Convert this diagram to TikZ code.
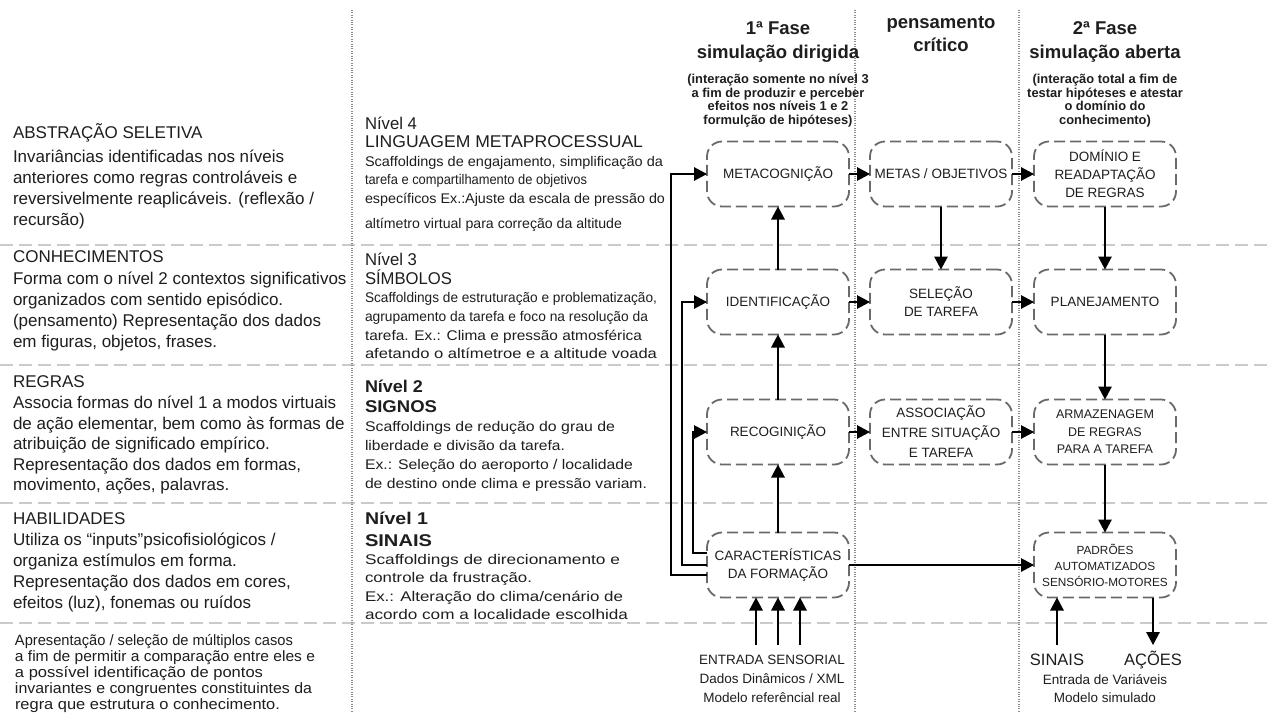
\documentclass[tikz,border=0pt]{standalone}
\usepackage{fontspec}
\setmainfont{Liberation Sans}
\usepackage{graphicx}
\usetikzlibrary{arrows.meta}

% squeeze or stretch one line of text to a given width (in pt)
\newsavebox\linebox
\newcommand\fitto[2]{\sbox\linebox{#2}\pgfmathsetmacro\fitscale{#1/\wd\linebox}\scalebox{\fitscale}[1]{\usebox\linebox}}

\definecolor{sepgray}{HTML}{CACACA}
\definecolor{dotgray}{HTML}{8C8C8C}
\definecolor{boxgray}{HTML}{6A6A6A}
\definecolor{ink}{HTML}{1E1E1E}

\begin{document}
\begin{tikzpicture}[x=1pt,y=-1pt,
  every node/.style={inner sep=0pt, outer sep=0pt},
  band/.style={draw=sepgray, line width=2.2pt, dash pattern=on 13pt off 6pt},
  colrule/.style={draw=dotgray, line width=1.1pt, dash pattern=on 1pt off 1.4pt},
  stage/.style={draw=boxgray, line width=1.8pt, dash pattern=on 11pt off 5pt,
    rounded corners=15pt, minimum width=142pt, minimum height=65pt,
    align=center, text=ink, font=\fontsize{13.5}{18}\selectfont},
  link/.style={draw=black, line width=1.3pt, -{Triangle[length=13pt,width=13.5pt]}},
  lefttxt/.style={anchor=base west, text=ink, font=\fontsize{17}{21}\selectfont},
  midtxt/.style={anchor=base west, text=ink, font=\fontsize{14}{17}\selectfont},
  lowtxt/.style={anchor=base west, text=ink, font=\fontsize{15}{16}\selectfont},
  phase/.style={anchor=base, text=ink, font=\bfseries\fontsize{18.5}{22}\selectfont},
  phasenote/.style={anchor=base, text=ink, font=\bfseries\fontsize{12.9}{14}\selectfont},
  foot/.style={anchor=base, text=ink, font=\fontsize{13.5}{16}\selectfont},
  bigfoot/.style={anchor=base, text=ink, font=\fontsize{16.5}{18}\selectfont}
]
\fill[white] (0,0) rectangle (1267,713);
\useasboundingbox (0,0) rectangle (1267,713);

% level bands and column rules
\foreach \yy in {245,365,503,623} \draw[band] (0,\yy) -- (1267,\yy);
\foreach \xx in {352,855,1019} \draw[colrule] (\xx,10) -- (\xx,713);

% left column: levels of knowledge
\foreach \yy/\tx [count=\i] in {
  138.5/{ABSTRAÇÃO SELETIVA},
  162.5/{Invariâncias identificadas nos níveis},
  183.5/{anteriores como regras controláveis e},
  204.5/{reversivelmente reaplicáveis. (reflexão /},
  225.5/{recursão)},
  262.5/{CONHECIMENTOS},
  284.5/{Forma com o nível 2 contextos significativos},
  305.5/{organizados com sentido episódico.},
  326.5/{(pensamento) Representação dos dados},
  347.5/{em figuras, objetos, frases.},
  387.5/{REGRAS},
  408.5/{Associa formas do nível 1 a modos virtuais},
  429.5/{de ação elementar, bem como às formas de},
  449.5/{atribuição de significado empírico.},
  470.5/{Representação dos dados em formas,},
  490.5/{movimento, ações, palavras.},
  524.5/{HABILIDADES},
  545.5/{Utiliza os “inputs”psicofisiológicos /},
  566.5/{organiza estímulos em forma.},
  587.5/{Representação dos dados em cores,},
  608.5/{efeitos (luz), fonemas ou ruídos}}
  \node[lefttxt] (left-\i) at (13,\yy) {\tx};

\foreach \yy/\ww/\tx [count=\i] in {
  645/278/{Apresentação / seleção de múltiplos casos},
  661/300/{a fim de permitir a comparação entre eles e},
  677/248/{a possível identificação de pontos},
  693/297/{invariantes e congruentes constituintes da},
  709/265/{regra que estrutura o conhecimento.}}
  \node[lowtxt] (low-\i) at (15,\yy) {\fitto{\ww}{\tx}};

% middle column: levels and scaffoldings
\foreach \yy/\ww/\tx [count=\i] in {
  129/52/{\fontsize{17}{20}\selectfont Nível 4},
  147/278/{\fontsize{17}{20}\selectfont LINGUAGEM METAPROCESSUAL},
  166.5/298/{Scaffoldings de engajamento, simplificação da},
  184.5/222/{tarefa e compartilhamento de objetivos},
  203.5/300/{específicos Ex.:Ajuste da escala de pressão do},
  228.5/257/{altímetro virtual para correção da altitude},
  265/52/{\fontsize{17}{20}\selectfont Nível 3},
  284/87/{\fontsize{17}{20}\selectfont SÍMBOLOS},
  302.5/292/{Scaffoldings de estruturação e problematização,},
  321.5/283/{agrupamento da tarefa e foco na resolução da},
  340.5/277/{tarefa. Ex.: Clima e pressão atmosférica},
  358.5/292/{afetando o altímetroe e a altitude voada},
  392/58/{\bfseries\fontsize{17}{20}\selectfont Nível 2},
  412/72/{\bfseries\fontsize{17}{20}\selectfont SIGNOS},
  431.5/250/{Scaffoldings de redução do grau de},
  450.5/200/{liberdade e divisão da tarefa.},
  469.5/268/{Ex.: Seleção do aeroporto / localidade},
  488.5/282/{de destino onde clima e pressão variam.},
  524/63/{\bfseries\fontsize{17}{20}\selectfont Nível 1},
  546/67/{\bfseries\fontsize{17}{20}\selectfont SINAIS},
  564.5/255/{Scaffoldings de direcionamento e},
  582.5/167/{controle da frustração.},
  601.5/258/{Ex.: Alteração do clima/cenário de},
  619.5/263/{acordo com a localidade escolhida}}
  \node[midtxt] (mid-\i) at (365,\yy) {\fitto{\ww}{\tx}};

% column headings
\node[phase] (ph1a) at (778,34.5) {1ª Fase};
\node[phase] (ph1b) at (778,58.5) {simulação dirigida};
\node[phasenote] (ph1c) at (778,83.5) {(interação somente no nível 3};
\node[phasenote] (ph1d) at (778,97) {a fim de produzir e perceber};
\node[phasenote] (ph1e) at (778,110.5) {efeitos nos níveis 1 e 2};
\node[phasenote] (ph1f) at (778,124) {formulção de hipóteses)};
\node[phase] (pc1) at (941,28.5) {pensamento};
\node[phase] (pc2) at (941,51.5) {crítico};
\node[phase] (ph2a) at (1105,34.5) {2ª Fase};
\node[phase] (ph2b) at (1105,58.5) {simulação aberta};
\node[phasenote] (ph2c) at (1105,83.5) {(interação total a fim de};
\node[phasenote] (ph2d) at (1105,97) {testar hipóteses e atestar};
\node[phasenote] (ph2e) at (1105,110.5) {o domínio do};
\node[phasenote] (ph2f) at (1105,124) {conhecimento)};

% process stages
\node[stage] (meta) at (778,174) {METACOGNIÇÃO};
\node[stage] (metas) at (941,174) {METAS / OBJETIVOS};
\node[stage] (dominio) at (1105,174) {DOMÍNIO E\\READAPTAÇÃO\\DE REGRAS};
\node[stage] (ident) at (778,302) {IDENTIFICAÇÃO};
\node[stage] (selecao) at (941,302) {SELEÇÃO\\DE TAREFA};
\node[stage] (plan) at (1105,302) {PLANEJAMENTO};
\node[stage] (recog) at (778,432) {RECOGINIÇÃO};
\node[stage, font=\fontsize{13.5}{20}\selectfont] (assoc) at (941,432) {ASSOCIAÇÃO\\ENTRE SITUAÇÃO\\E TAREFA};
\node[stage, font=\fontsize{12.5}{17.5}\selectfont] (armaz) at (1105,432) {ARMAZENAGEM\\DE REGRAS\\PARA A TAREFA};
\node[stage] (carac) at (778,565) {CARACTERÍSTICAS\\DA FORMAÇÃO};
\node[stage, font=\fontsize{11.8}{16}\selectfont] (padroes) at (1105,565) {PADRÕES\\AUTOMATIZADOS\\SENSÓRIO-MOTORES};

% flow between stages
\draw[link] (meta) -- (metas);
\draw[link] (metas) -- (dominio);
\draw[link] (ident) -- (selecao);
\draw[link] (selecao) -- (plan);
\draw[link] (recog) -- (assoc);
\draw[link] (assoc) -- (armaz);
\draw[link] (carac) -- (padroes);
\draw[link] (carac) -- (recog);
\draw[link] (recog) -- (ident);
\draw[link] (ident) -- (meta);
\draw[link] (metas) -- (selecao);
\draw[link] (dominio) -- (plan);
\draw[link] (plan) -- (armaz);
\draw[link] (armaz) -- (padroes);

% feedback from the formation features to the upper levels
\coordinate (fbin) at (693,0);
\coordinate (fbmid) at (682,0);
\coordinate (fbout) at (671,0);
\draw[link] ([yshift=12pt]carac.west) -| (fbin |- recog.west) -- (recog.west);
\draw[link] (carac.west) -| (fbmid |- ident.west) -- (ident.west);
\draw[link] ([yshift=-10pt]carac.west) -| (fbout |- meta.west) -- (meta.west);

% sensory inputs and outputs
\coordinate (in1) at (756,645);
\coordinate (in2) at (778,645);
\coordinate (in3) at (800,645);
\coordinate (sig) at (1057,645);
\coordinate (act) at (1153,645);
\draw[link] (in1) -- (in1 |- carac.south);
\draw[link] (in2) -- (in2 |- carac.south);
\draw[link] (in3) -- (in3 |- carac.south);
\draw[link] (sig) -- (sig |- padroes.south);
\draw[link] (act |- padroes.south) -- (act);

\node[foot] (entrada) at (772,664) {ENTRADA SENSORIAL};
\node[foot] (dados) at (772,683) {Dados Dinâmicos / XML};
\node[foot] (modelo) at (772,702) {Modelo referêncial real};
\node[bigfoot] (sinais) at (1057,665.5) {SINAIS};
\node[bigfoot] (acoes) at (1153,665.5) {AÇÕES};
\node[foot] (variaveis) at (1105,684.5) {Entrada de Variáveis};
\node[foot] (simulado) at (1105,702) {Modelo simulado};
\end{tikzpicture}
\end{document}
